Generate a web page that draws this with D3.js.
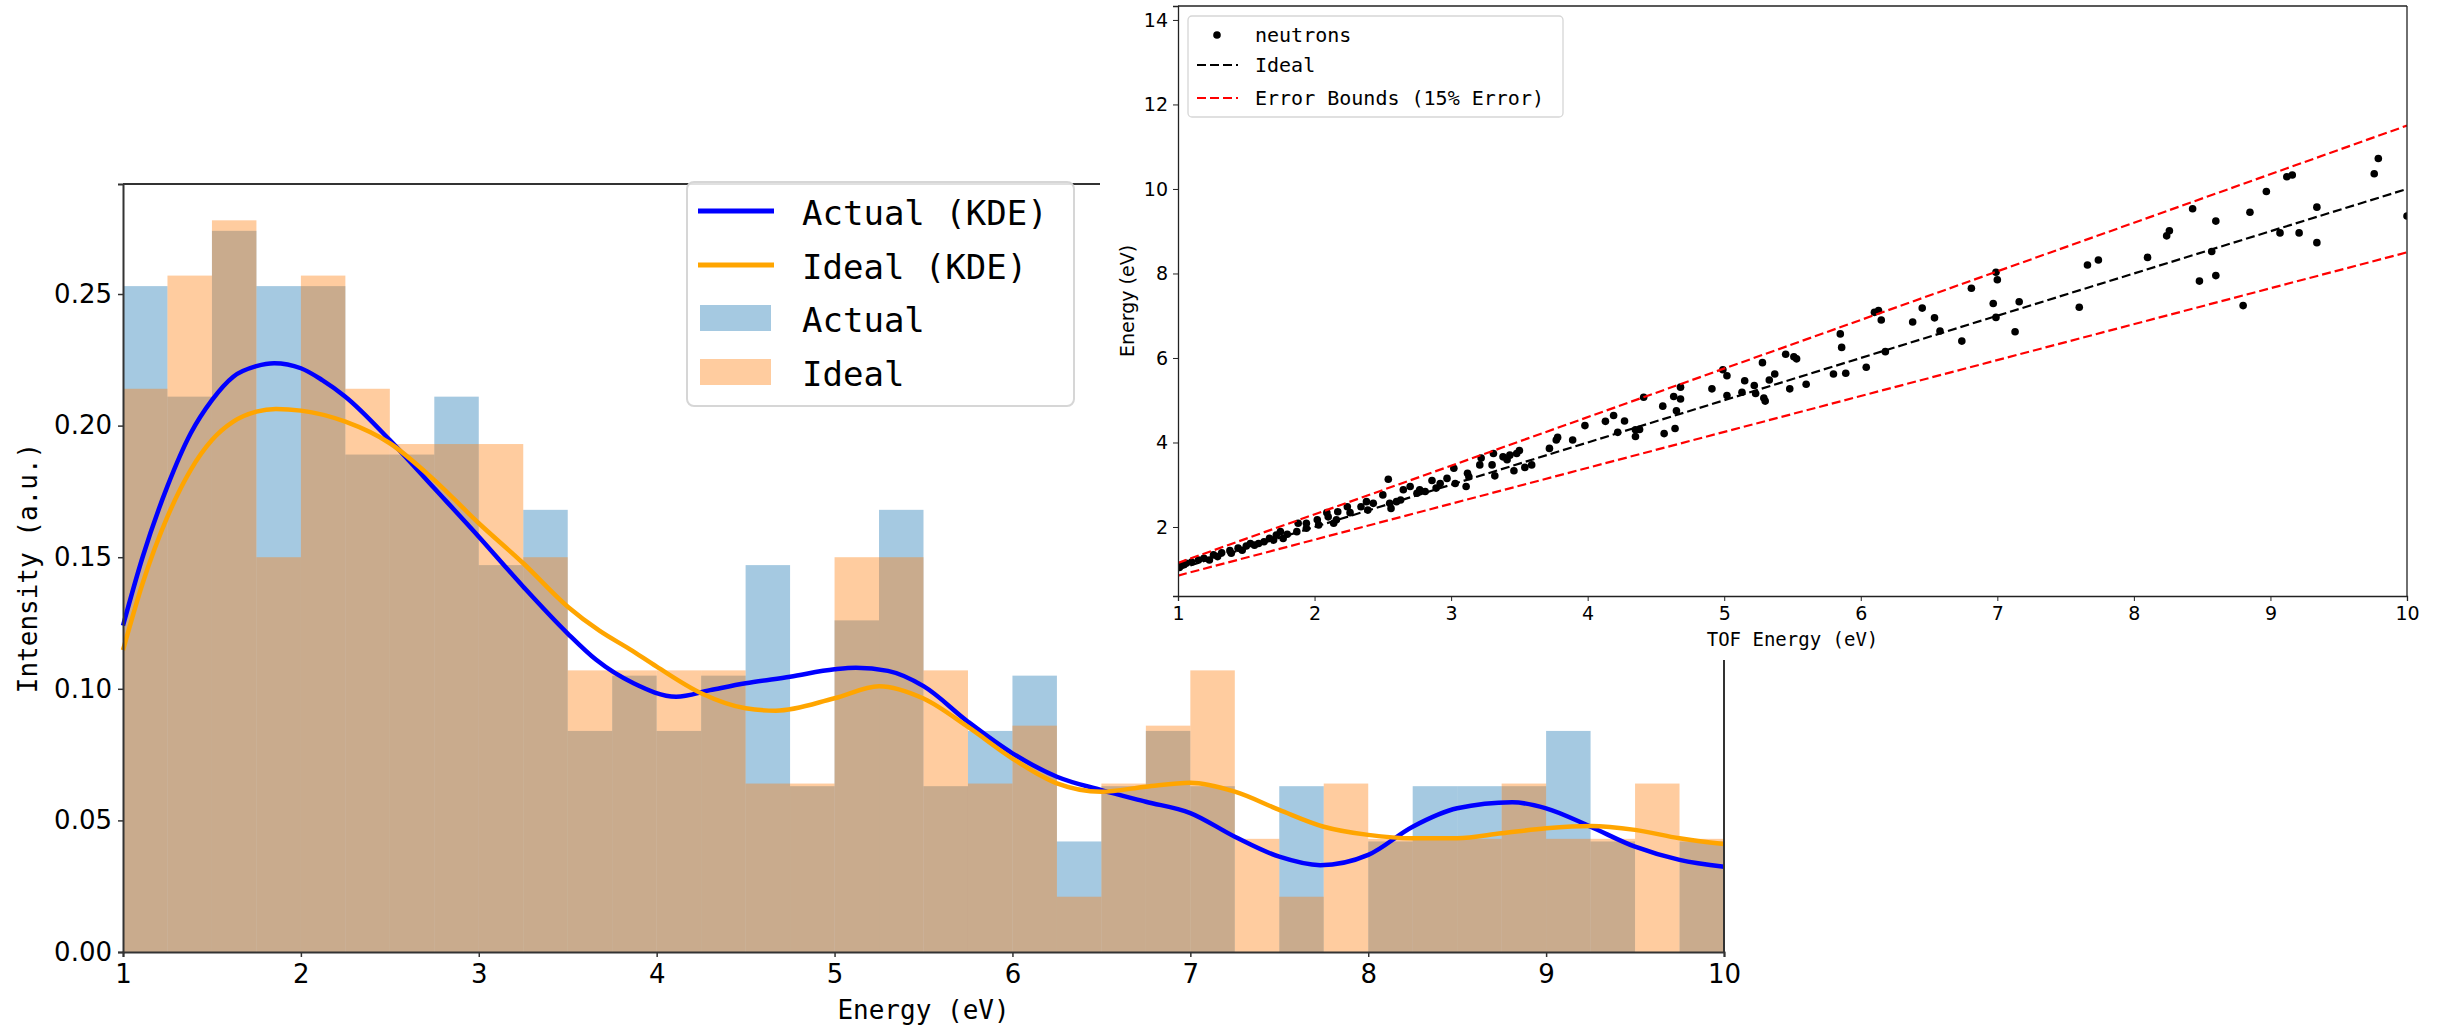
<!DOCTYPE html>
<html>
<head>
<meta charset="utf-8">
<script src="https://cdn.jsdelivr.net/npm/d3@7"></script>
<style>
  body { margin: 0; background: #fff; }
  svg { display: block; }
</style>
</head>
<body>
<div id="chart"></div>
<script>
// histogram bins (left edges, width 0.25 eV)
var binStart = [1, 1.25, 1.5, 1.75, 2, 2.25, 2.5, 2.75, 3, 3.25, 3.5, 3.75,
  4, 4.25, 4.5, 4.75, 5, 5.25, 5.5, 5.75, 6, 6.25, 6.5, 6.75,
  7, 7.25, 7.5, 7.75, 8, 8.25, 8.5, 8.75, 9, 9.25, 9.5, 9.75];
var binWidth = 0.25;

var actualDensity = [0.253, 0.211, 0.274, 0.253, 0.253, 0.189, 0.189, 0.211, 0.147, 0.168, 0.084, 0.105,
  0.084, 0.105, 0.147, 0.063, 0.126, 0.168, 0.063, 0.084, 0.105, 0.042, 0.063, 0.084,
  0.063, 0, 0.063, 0, 0.042, 0.063, 0.063, 0.063, 0.084, 0.042, 0, 0.042];
var idealDensity = [0.214, 0.257, 0.278, 0.150, 0.257, 0.214, 0.193, 0.193, 0.193, 0.150, 0.107, 0.107,
  0.107, 0.107, 0.064, 0.064, 0.150, 0.150, 0.107, 0.064, 0.086, 0.021, 0.064, 0.086,
  0.107, 0.043, 0.021, 0.064, 0.043, 0.043, 0.043, 0.064, 0.043, 0.043, 0.064, 0.043];

// KDE curves
var kdeActualX = [1, 1.11, 1.25, 1.38, 1.5, 1.62, 1.75, 1.85, 2, 2.12, 2.25, 2.5, 2.75, 3, 3.25, 3.5,
  3.66, 3.87, 4.11, 4.3, 4.5, 4.75, 5, 5.12, 5.3, 5.5, 5.75, 6, 6.25, 6.5, 6.75, 7, 7.25, 7.5,
  7.73, 8, 8.25, 8.5, 8.81, 9, 9.25, 9.5, 9.75, 10];
var kdeActualY = [0.124, 0.150, 0.177, 0.197, 0.2097, 0.2186, 0.2226, 0.2237, 0.2218, 0.2173, 0.211, 0.1945,
  0.1762, 0.1578, 0.1388, 0.121, 0.111, 0.1021, 0.097, 0.0995, 0.1021, 0.1046, 0.1074, 0.108, 0.1068,
  0.101, 0.0875, 0.0755, 0.0666, 0.0615, 0.0571, 0.0528, 0.0438, 0.0362, 0.033, 0.0369, 0.0476,
  0.0546, 0.0569, 0.0546, 0.0476, 0.040, 0.035, 0.0324];
var kdeIdealX = [1, 1.11, 1.25, 1.38, 1.5, 1.62, 1.75, 1.86, 2, 2.25, 2.5, 2.75, 3, 3.25, 3.5, 3.68,
  3.85, 4, 4.25, 4.5, 4.67, 5, 5.25, 5.5, 5.75, 6, 6.25, 6.5, 6.75, 7, 7.25, 7.5, 7.75, 8,
  8.25, 8.5, 8.75, 9, 9.25, 9.5, 9.75, 10];
var kdeIdealY = [0.1147, 0.140, 0.1654, 0.1831, 0.1945, 0.2015, 0.2053, 0.2063, 0.2057, 0.2015, 0.1933,
  0.1793, 0.1629, 0.1477, 0.1312, 0.122, 0.115, 0.1084, 0.0983, 0.0926, 0.0917, 0.0964, 0.101,
  0.0963, 0.0855, 0.0735, 0.0641, 0.0609, 0.0628, 0.0643, 0.0609, 0.054, 0.0476, 0.0445, 0.0432,
  0.0432, 0.0451, 0.047, 0.0479, 0.0464, 0.0432, 0.041];

var mainXTicks = [1, 2, 3, 4, 5, 6, 7, 8, 9, 10];
var mainYTicks = [0, 0.05, 0.10, 0.15, 0.20, 0.25];
var mainLegendLabels = ["Actual (KDE)", "Ideal (KDE)", "Actual", "Ideal"];

// inset scatter: TOF energy vs measured energy
var tofEnergy = [1.01, 1.03, 1.06, 1.10, 1.15, 1.19, 1.23, 1.26, 1.29, 1.32, 1.38, 1.39, 1.44, 1.47,
  1.50, 1.53, 1.56, 1.59, 1.63, 1.67, 1.70, 1.72, 1.75, 1.77, 1.80, 1.87, 1.88, 1.94, 1.94,
  2.02, 2.03, 2.09, 2.10, 2.14, 2.16, 2.17, 2.24, 2.26, 2.34, 2.38, 2.39, 2.43, 2.50, 2.54,
  2.55, 2.56, 2.60, 2.63, 2.65, 2.70, 2.75, 2.77, 2.81, 2.86, 2.89, 2.92, 2.97, 3.02, 3.03,
  3.11, 3.12, 3.13, 3.21, 3.22, 3.30, 3.31, 3.32, 3.38, 3.41, 3.43, 3.46, 3.48, 3.50, 3.54,
  3.59, 3.72, 3.77, 3.78, 3.89, 3.98, 4.13, 4.19, 4.22, 4.27, 4.35, 4.38, 4.35, 4.41, 4.55,
  4.56, 4.63, 4.64, 4.65, 4.68, 4.68, 4.91, 4.99, 5.02, 5.02, 5.13, 5.15, 5.22, 5.23, 5.28,
  5.29, 5.30, 5.33, 5.37, 5.45, 5.48, 5.51, 5.53, 5.60, 5.80, 5.85, 5.86, 5.89, 6.04, 6.10,
  6.13, 6.15, 6.18, 6.38, 6.45, 6.54, 6.58, 6.74, 6.81, 6.97, 6.99, 7.00, 6.99, 7.13, 7.16,
  7.60, 7.66, 7.74, 8.10, 8.24, 8.26, 8.43, 8.48, 8.57, 8.60, 8.60, 8.80, 8.85, 8.97, 9.07,
  9.12, 9.16, 9.21, 9.34, 9.34, 9.76, 9.79, 10.00];
var measEnergy = [1.04, 1.10, 1.14, 1.17, 1.22, 1.26, 1.22, 1.34, 1.30, 1.39, 1.44, 1.38, 1.50, 1.45,
  1.55, 1.61, 1.57, 1.61, 1.65, 1.73, 1.69, 1.81, 1.89, 1.73, 1.83, 1.89, 2.09, 2.09, 1.97,
  2.17, 2.05, 2.34, 2.24, 2.09, 2.17, 2.36, 2.48, 2.34, 2.48, 2.60, 2.40, 2.56, 2.76, 3.13,
  2.56, 2.44, 2.60, 2.64, 2.88, 2.96, 2.80, 2.88, 2.84, 3.10, 2.92, 3.03, 3.15, 3.39, 3.03,
  2.96, 3.27, 3.19, 3.47, 3.63, 3.47, 3.74, 3.21, 3.66, 3.59, 3.70, 3.33, 3.74, 3.81, 3.41,
  3.47, 3.86, 4.06, 4.12, 4.06, 4.40, 4.50, 4.64, 4.24, 4.51, 4.30, 4.31, 4.14, 5.07, 4.86,
  4.21, 5.09, 4.33, 4.75, 5.31, 5.03, 5.27, 5.72, 5.58, 5.11, 5.19, 5.46, 5.35, 5.16, 5.89,
  5.05, 4.98, 5.48, 5.62, 6.09, 5.27, 6.03, 5.98, 5.38, 5.62, 6.57, 6.25, 5.64, 5.78, 7.08,
  7.12, 6.90, 6.15, 6.85, 7.18, 6.95, 6.64, 6.40, 7.65, 7.29, 8.03, 7.85, 6.96, 6.62, 7.33,
  7.20, 8.20, 8.32, 8.38, 8.89, 9.01, 9.53, 7.82, 8.52, 9.24, 7.95, 7.24, 9.45, 9.94, 8.96,
  10.29, 10.33, 8.96, 9.57, 8.73, 10.36, 10.72, 9.36];

var boundX = [1, 10];
var idealLineY = [1, 10];
var upperBoundY = [1.15, 11.5];
var lowerBoundY = [0.85, 8.5];
var insetXTicks = [1, 2, 3, 4, 5, 6, 7, 8, 9, 10];
var insetYTicks = [2, 4, 6, 8, 10, 12, 14];
var insetLegendLabels = ["neutrons", "Ideal", "Error Bounds (15% Error)"];

var svgWidth = 2440;
var svgHeight = 1027;
var sans = "'DejaVu Sans', sans-serif";
var mono = "'DejaVu Sans Mono', monospace";

var svg = d3.select("#chart")
  .append("svg")
  .attr("width", svgWidth)
  .attr("height", svgHeight);

// ---------- main histogram / KDE chart ----------
var main = { left: 123, right: 1724, top: 184, bottom: 952 };

var xMain = d3.scaleLinear().domain([1, 10]).range([main.left, main.right]);
var yMain = d3.scaleLinear().domain([0, 0.2918]).range([main.bottom, main.top]);

var histGroup = svg.append("g");

histGroup.selectAll(".barActual")
  .data(binStart)
  .enter()
  .append("rect")
  .attr("x", d => xMain(d))
  .attr("width", d => xMain(d + binWidth) - xMain(d))
  .attr("y", (d, i) => yMain(actualDensity[i]))
  .attr("height", (d, i) => yMain(0) - yMain(actualDensity[i]))
  .attr("fill", "#1f77b4")
  .attr("fill-opacity", 0.4);

histGroup.selectAll(".barIdeal")
  .data(binStart)
  .enter()
  .append("rect")
  .attr("x", d => xMain(d))
  .attr("width", d => xMain(d + binWidth) - xMain(d))
  .attr("y", (d, i) => yMain(idealDensity[i]))
  .attr("height", (d, i) => yMain(0) - yMain(idealDensity[i]))
  .attr("fill", "#ff7f0e")
  .attr("fill-opacity", 0.4);

var kdeLine = d3.line()
  .x(d => xMain(d[0]))
  .y(d => yMain(d[1]))
  .curve(d3.curveMonotoneX);

svg.append("path")
  .datum(d3.zip(kdeActualX, kdeActualY))
  .attr("d", kdeLine)
  .attr("fill", "none")
  .attr("stroke", "#0000ff")
  .attr("stroke-width", 4.5);

svg.append("path")
  .datum(d3.zip(kdeIdealX, kdeIdealY))
  .attr("d", kdeLine)
  .attr("fill", "none")
  .attr("stroke", "#ffa500")
  .attr("stroke-width", 4.5);

// axes
var xAxisMain = svg.append("g")
  .attr("transform", `translate(0, ${main.bottom})`)
  .call(d3.axisBottom(xMain).tickValues(mainXTicks).tickSizeOuter(0).tickSize(5).tickPadding(8));
var yAxisMain = svg.append("g")
  .attr("transform", `translate(${main.left}, 0)`)
  .call(d3.axisLeft(yMain).tickValues(mainYTicks).tickFormat(d3.format(".2f")).tickSizeOuter(0).tickSize(5).tickPadding(6));

[xAxisMain, yAxisMain].forEach(function (ax) {
  ax.select(".domain").attr("stroke", "#333").attr("stroke-width", 2);
  ax.selectAll(".tick line").attr("stroke", "#333").attr("stroke-width", 1.5);
  ax.selectAll(".tick text").attr("font-family", sans).attr("font-size", 26).attr("fill", "#000");
});

// top and right spines
svg.append("line")
  .attr("x1", main.left).attr("x2", main.right)
  .attr("y1", main.top).attr("y2", main.top)
  .attr("stroke", "#333").attr("stroke-width", 2);
svg.append("line")
  .attr("x1", main.right).attr("x2", main.right)
  .attr("y1", main.top).attr("y2", main.bottom)
  .attr("stroke", "#333").attr("stroke-width", 2);

svg.append("text")
  .attr("x", (main.left + main.right) / 2)
  .attr("y", 1019)
  .attr("text-anchor", "middle")
  .attr("font-family", mono)
  .attr("font-size", 26)
  .text("Energy (eV)");

svg.append("text")
  .attr("transform", `translate(37, ${(main.top + main.bottom) / 2}) rotate(-90)`)
  .attr("text-anchor", "middle")
  .attr("font-family", mono)
  .attr("font-size", 26)
  .text("Intensity (a.u.)");

// main legend
var legend = svg.append("g");
legend.append("rect")
  .attr("x", 687).attr("y", 182)
  .attr("width", 387).attr("height", 224)
  .attr("rx", 7)
  .attr("fill", "#fff").attr("fill-opacity", 0.85)
  .attr("stroke", "#d6d6d6").attr("stroke-width", 2);

var legendRows = [211, 265, 318, 372];
legend.append("line")
  .attr("x1", 698).attr("x2", 774).attr("y1", legendRows[0]).attr("y2", legendRows[0])
  .attr("stroke", "#0000ff").attr("stroke-width", 5);
legend.append("line")
  .attr("x1", 698).attr("x2", 774).attr("y1", legendRows[1]).attr("y2", legendRows[1])
  .attr("stroke", "#ffa500").attr("stroke-width", 5);
legend.append("rect")
  .attr("x", 700).attr("y", legendRows[2] - 13).attr("width", 71).attr("height", 26)
  .attr("fill", "#1f77b4").attr("fill-opacity", 0.4);
legend.append("rect")
  .attr("x", 700).attr("y", legendRows[3] - 13).attr("width", 71).attr("height", 26)
  .attr("fill", "#ff7f0e").attr("fill-opacity", 0.4);

legend.selectAll(".legendText")
  .data(mainLegendLabels)
  .enter()
  .append("text")
  .attr("x", 802)
  .attr("y", (d, i) => legendRows[i] + 14)
  .attr("font-family", mono)
  .attr("font-size", 34)
  .text(d => d);

// ---------- inset scatter ----------
// white backing of the inset figure
svg.append("rect")
  .attr("x", 1100).attr("y", 0)
  .attr("width", svgWidth - 1100).attr("height", 660)
  .attr("fill", "#fff");

var inset = { left: 1178, right: 2407, top: 6, bottom: 596 };
var xIn = d3.scaleLinear().domain([1, 10]).range([inset.left, inset.right]);
var yIn = d3.scaleLinear().domain([0.367, 14.33]).range([inset.bottom, inset.top]);

svg.append("clipPath")
  .attr("id", "insetClip")
  .append("rect")
  .attr("x", inset.left).attr("y", inset.top)
  .attr("width", inset.right - inset.left).attr("height", inset.bottom - inset.top);

var insetPlot = svg.append("g").attr("clip-path", "url(#insetClip)");

insetPlot.selectAll("circle")
  .data(d3.zip(tofEnergy, measEnergy))
  .enter()
  .append("circle")
  .attr("cx", d => xIn(d[0]))
  .attr("cy", d => yIn(d[1]))
  .attr("r", 3.8)
  .attr("fill", "#000");

var insetLine = d3.line()
  .x(d => xIn(d[0]))
  .y(d => yIn(d[1]));

insetPlot.append("path")
  .datum(d3.zip(boundX, idealLineY))
  .attr("d", insetLine)
  .attr("stroke", "#000").attr("stroke-width", 2.2)
  .attr("stroke-dasharray", "9,4").attr("fill", "none");
insetPlot.append("path")
  .datum(d3.zip(boundX, upperBoundY))
  .attr("d", insetLine)
  .attr("stroke", "#ff0000").attr("stroke-width", 2.2)
  .attr("stroke-dasharray", "9,4").attr("fill", "none");
insetPlot.append("path")
  .datum(d3.zip(boundX, lowerBoundY))
  .attr("d", insetLine)
  .attr("stroke", "#ff0000").attr("stroke-width", 2.2)
  .attr("stroke-dasharray", "9,4").attr("fill", "none");

var xAxisIn = svg.append("g")
  .attr("transform", `translate(0, ${inset.bottom})`)
  .call(d3.axisBottom(xIn).tickValues(insetXTicks).tickSizeOuter(0).tickSize(5).tickPadding(6));
var yAxisIn = svg.append("g")
  .attr("transform", `translate(${inset.left}, 0)`)
  .call(d3.axisLeft(yIn).tickValues(insetYTicks).tickSizeOuter(0).tickSize(5).tickPadding(5));

[xAxisIn, yAxisIn].forEach(function (ax) {
  ax.select(".domain").attr("stroke", "#222").attr("stroke-width", 1.3);
  ax.selectAll(".tick line").attr("stroke", "#222");
  ax.selectAll(".tick text").attr("font-family", sans).attr("font-size", 19).attr("fill", "#000");
});

svg.append("line")
  .attr("x1", inset.left).attr("x2", inset.right)
  .attr("y1", inset.top).attr("y2", inset.top)
  .attr("stroke", "#222").attr("stroke-width", 1.3);
svg.append("line")
  .attr("x1", inset.right).attr("x2", inset.right)
  .attr("y1", inset.top).attr("y2", inset.bottom)
  .attr("stroke", "#222").attr("stroke-width", 1.3);

svg.append("text")
  .attr("x", (inset.left + inset.right) / 2)
  .attr("y", 646)
  .attr("text-anchor", "middle")
  .attr("font-family", mono)
  .attr("font-size", 19)
  .text("TOF Energy (eV)");

svg.append("text")
  .attr("transform", `translate(1134, ${(inset.top + inset.bottom) / 2}) rotate(-90)`)
  .attr("text-anchor", "middle")
  .attr("font-family", sans)
  .attr("font-size", 19)
  .text("Energy (eV)");

// inset legend
var insetLegend = svg.append("g");
insetLegend.append("rect")
  .attr("x", 1188).attr("y", 16)
  .attr("width", 375).attr("height", 101)
  .attr("rx", 4)
  .attr("fill", "#fff").attr("fill-opacity", 0.85)
  .attr("stroke", "#d6d6d6").attr("stroke-width", 1.3);

var insetRows = [35, 65, 98];
insetLegend.append("circle")
  .attr("cx", 1217).attr("cy", insetRows[0]).attr("r", 3.8).attr("fill", "#000");
insetLegend.append("line")
  .attr("x1", 1197).attr("x2", 1238).attr("y1", insetRows[1]).attr("y2", insetRows[1])
  .attr("stroke", "#000").attr("stroke-width", 2.2).attr("stroke-dasharray", "9,4");
insetLegend.append("line")
  .attr("x1", 1197).attr("x2", 1238).attr("y1", insetRows[2]).attr("y2", insetRows[2])
  .attr("stroke", "#ff0000").attr("stroke-width", 2.2).attr("stroke-dasharray", "9,4");

insetLegend.selectAll(".insetLegendText")
  .data(insetLegendLabels)
  .enter()
  .append("text")
  .attr("x", 1255)
  .attr("y", (d, i) => insetRows[i] + 7)
  .attr("font-family", mono)
  .attr("font-size", 20)
  .text(d => d);
</script>
</body>
</html>
